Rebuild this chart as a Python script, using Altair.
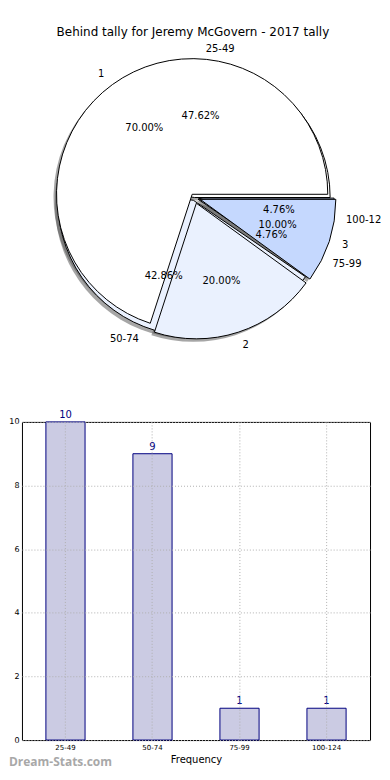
import math
import altair as alt
import pandas as pd

# ---------------- data ----------------
TITLE = "Behind tally for Jeremy McGovern - 2017 tally"
pie1_labels = ["25-49", "50-74", "75-99", "100-124"]
pie1_values = [10, 9, 1, 1]
pie2_labels = ["1", "2", "3"]
pie2_values = [7, 2, 1]
bar_categories = ["25-49", "50-74", "75-99", "100-124"]
bar_values = [10, 9, 1, 1]
y_ticks = [0, 2, 4, 6, 8, 10]
x_title = "Frequency"
watermark = "Dream-Stats.com"

# ---------------- styles ----------------
FONT = "DejaVu Sans"
R = 136
CX, CY = 173, 158
explode = {"1": 4, "2": 6, "3": 6, "25-49": 0, "50-74": 3, "75-99": 4, "100-124": 4}
slice_colors = {"25-49": "#ffffff", "50-74": "#eaf1fe", "75-99": "#c5d8fe", "100-124": "#c5d8fe",
                "1": "#ffffff", "2": "#eaf1fe", "3": "#c5d8fe"}

rows = []
for i, (l, v) in enumerate(zip(pie1_labels, pie1_values)):
    rows.append({"pie": 1, "label": l, "value": v, "order": i})
for i, (l, v) in enumerate(zip(pie2_labels, pie2_values)):
    rows.append({"pie": 2, "label": l, "value": v, "order": i})
pie_df = pd.DataFrame(rows)

ex_expr = ""
for k, v in explode.items():
    ex_expr += f"datum.label === '{k}' ? {v} : "
ex_expr += "0"

TWO_PI = 2 * math.pi
theta_scale = alt.Scale(domain=[0, 1], range=[2.5 * math.pi, 0.5 * math.pi])
color_scale = alt.Scale(domain=list(slice_colors.keys()), range=list(slice_colors.values()))

base = (
    alt.Chart(pie_df)
    .transform_joinaggregate(total="sum(value)", groupby=["pie"])
    .transform_window(cum="sum(value)", groupby=["pie"], sort=[alt.SortField("order")])
    .transform_calculate(f0="(datum.cum - datum.value) / datum.total")
    .transform_calculate(f1="datum.cum / datum.total")
    .transform_calculate(a=f"{TWO_PI} * (datum.f0 + datum.f1) / 2")
    .transform_calculate(ex=ex_expr)
    .transform_calculate(cx=f"{CX} + datum.ex * cos(datum.a)",
                         cy=f"{CY} - datum.ex * sin(datum.a)")
    .transform_calculate(lx=f"datum.cx + {1.1 * R} * cos(datum.a)",
                         ly=f"datum.cy - {1.1 * R} * sin(datum.a)",
                         px=f"datum.cx + {0.6 * R} * cos(datum.a)",
                         py=f"datum.cy - {0.6 * R} * sin(datum.a)",
                         pct="format(datum.value / datum.total * 100, '.2f') + '%'",
                         right="cos(datum.a) >= 0 ? 1 : 0")
)

arc_enc = dict(
    x=alt.X("cx:Q", scale=None, axis=None, stack=None),
    y=alt.Y("cy:Q", scale=None, axis=None, stack=None),
    theta=alt.Theta("f0:Q", scale=theta_scale),
    theta2=alt.Theta2("f1:Q"),
)

shadow = base.mark_arc(radius=R, fill="#4d4d4d", opacity=0.5, xOffset=-3, yOffset=3, clip=True).encode(**arc_enc)
pie1 = base.transform_filter("datum.pie === 1").mark_arc(radius=R, stroke="black", strokeWidth=1, clip=True).encode(
    color=alt.Color("label:N", scale=color_scale, legend=None), **arc_enc)
pie2 = base.transform_filter("datum.pie === 2").mark_arc(radius=R, stroke="black", strokeWidth=1, clip=True).encode(
    color=alt.Color("label:N", scale=color_scale, legend=None), **arc_enc)

lab_l = base.transform_filter("datum.right === 1").mark_text(
    align="left", baseline="middle", fontSize=10, font=FONT, color="black", clip=True).encode(
    x=alt.X("lx:Q", scale=None, axis=None), y=alt.Y("ly:Q", scale=None, axis=None), text="label:N")
lab_r = base.transform_filter("datum.right === 0").mark_text(
    align="right", baseline="middle", fontSize=10, font=FONT, color="black", clip=True).encode(
    x=alt.X("lx:Q", scale=None, axis=None), y=alt.Y("ly:Q", scale=None, axis=None), text="label:N")
pct = base.mark_text(align="center", baseline="middle", fontSize=10, font=FONT, color="black", clip=True).encode(
    x=alt.X("px:Q", scale=None, axis=None), y=alt.Y("py:Q", scale=None, axis=None), text="pct:N")

pie_chart = alt.layer(shadow, pie1, pie2, lab_l, lab_r, pct).properties(
    width=360, height=359, view=alt.ViewBackground(stroke="transparent"))

# ---------------- bar chart ----------------
bar_df = pd.DataFrame({"cat": bar_categories, "count": bar_values})
grid_common = dict(grid=True, gridColor="#b0b0b0", gridDash=[1, 2], gridWidth=1, domain=False, zindex=1)

xenc = alt.X("cat:N", sort=bar_categories,
             scale=alt.Scale(paddingInner=0.55, paddingOuter=0.275),
             axis=alt.Axis(title=x_title, labelAngle=0, labelFontSize=7, labelFont=FONT, labelColor="black",
                           titleFontSize=10, titleFont=FONT, titleFontWeight="normal", titleColor="black",
                           titlePadding=5, labelPadding=3, ticks=False, bandPosition=0.5, **grid_common))
yenc = alt.Y("count:Q", scale=alt.Scale(domain=[0, 10], nice=False),
             axis=alt.Axis(title=None, values=y_ticks, format="d", labelFontSize=8, labelFont=FONT,
                           labelColor="black", labelPadding=3, ticks=False, **grid_common))

bars = alt.Chart(bar_df).mark_bar(fill="#cbcbe3", stroke="#000080", strokeWidth=1).encode(x=xenc, y=yenc)
bar_text = alt.Chart(bar_df).mark_text(baseline="bottom", dy=-2, fontSize=10, font=FONT, color="#000080").encode(
    x=alt.X("cat:N", sort=bar_categories), y=alt.Y("count:Q"), text="count:Q")
wm = alt.Chart(pd.DataFrame({"t": [watermark]})).mark_text(
    align="left", baseline="middle", fontSize=12, fontWeight="bold", font="Open Sans",
    color="#a8a8a8", x=-13, y=341).encode(text="t:N")

bar_chart = alt.layer(bars, bar_text, wm).properties(
    width=349, height=319, view=alt.ViewBackground(stroke="black", strokeWidth=1))

chart = alt.vconcat(pie_chart, bar_chart, spacing=10).properties(
    title=alt.TitleParams(TITLE, fontSize=12, font=FONT, fontWeight="normal", anchor="middle",
                          color="black", offset=0, dx=-2),
    padding={"left": 0, "top": 17, "right": 0, "bottom": 0},
)

chart.save("out.html", embed_options={"renderer": "svg", "actions": False})
